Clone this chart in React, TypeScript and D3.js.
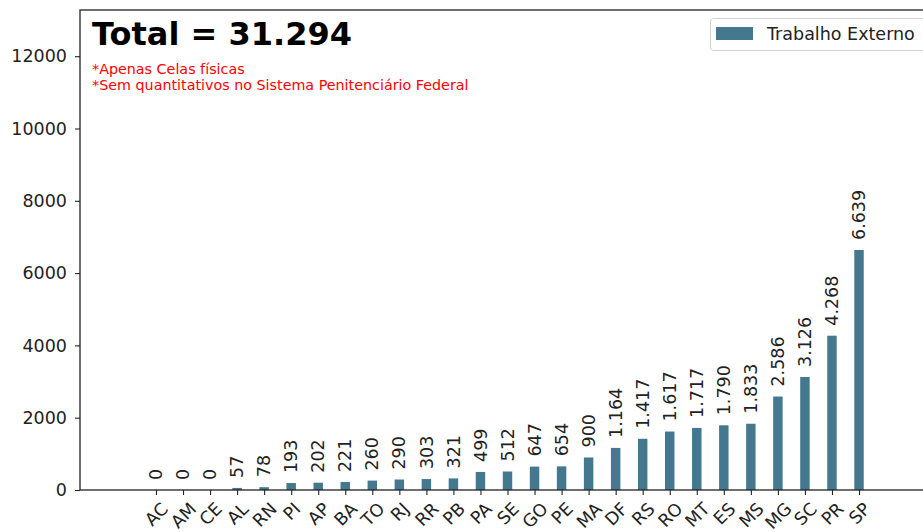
import React, { useEffect, useRef } from "react";
import * as d3 from "d3";

const categories = ["AC","AM","CE","AL","RN","PI","AP","BA","TO","RJ","RR","PB","PA","SE","GO","PE","MA","DF","RS","RO","MT","ES","MS","MG","SC","PR","SP"];
const values = [0,0,0,57,78,193,202,221,260,290,303,321,499,512,647,654,900,1164,1417,1617,1717,1790,1833,2586,3126,4268,6639];
const yTicks = [0, 2000, 4000, 6000, 8000, 10000, 12000];
const seriesName = "Trabalho Externo";
const titleText = "Total = 31.294";
const notes = ["*Apenas Celas físicas", "*Sem quantitativos no Sistema Penitenciário Federal"];

const W = 923, H = 532;
const BAR = "#44788f";
const FONT = "DejaVu Sans, sans-serif";
const FS = 17.5;

export default function App() {
  const ref = useRef<SVGSVGElement>(null);
  useEffect(() => {
    const svg = d3.select(ref.current);
    svg.selectAll("*").remove();
    const left = 80, right = 935, top = 10, bottom = 490;
    const x = d3.scalePoint<string>().domain(categories).range([left, right]).padding(2.81);
    const yMax = d3.max(values)! * 2;
    const y = d3.scaleLinear().domain([0, yMax]).range([bottom, top]);
    const bw = x.step() * 0.35;
    const fmt = d3.formatLocale({ decimal: ",", thousands: ".", grouping: [3], currency: ["R$", ""] }).format(",d");

    svg.append("rect").attr("width", W).attr("height", H).attr("fill", "#fff");

    // bars
    svg.append("g").selectAll("rect").data(values).join("rect")
      .attr("x", (_, i) => x(categories[i])! - bw / 2)
      .attr("width", bw)
      .attr("y", d => y(d))
      .attr("height", d => y(0) - y(d))
      .attr("fill", BAR);

    // bar labels
    svg.append("g").selectAll("text").data(values).join("text")
      .attr("transform", (d, i) => `translate(${x(categories[i])},${y(d) - 10}) rotate(-90)`)
      .attr("dy", "0.35em")
      .attr("font-family", FONT).attr("font-size", FS).attr("fill", "#222")
      .text(d => fmt(d));

    // y axis
    const ya = svg.append("g").attr("transform", `translate(${left},0)`)
      .call(d3.axisLeft(y).tickValues(yTicks).tickSize(5).tickPadding(8).tickFormat(d3.format("d")));
    ya.select(".domain").remove();
    ya.selectAll("line").attr("stroke", "#222").attr("stroke-width", 1.1);
    ya.selectAll("text").attr("font-family", FONT).attr("font-size", FS).attr("fill", "#222");

    // x axis
    const xa = svg.append("g").attr("transform", `translate(0,${bottom})`)
      .call(d3.axisBottom(x).tickSize(5).tickPadding(0));
    xa.select(".domain").remove();
    xa.selectAll("line").attr("stroke", "#222").attr("stroke-width", 1.1);
    xa.selectAll<SVGTextElement, string>("text")
      .attr("font-family", FONT).attr("font-size", FS).attr("fill", "#222")
      .attr("text-anchor", "middle").attr("dy", "0.35em").attr("y", 0)
      .each(function () {
        const t = this as SVGTextElement;
        const w = t.getComputedTextLength();
        const h = FS * 1.164;
        const cy = 8.5 + (w + h) / (2 * Math.SQRT2);
        d3.select(t).attr("transform", `translate(0,${cy}) rotate(-45)`);
      });

    // spines
    svg.append("rect").attr("x", left).attr("y", top).attr("width", right - left).attr("height", bottom - top)
      .attr("fill", "none").attr("stroke", "#222").attr("stroke-width", 1.3);

    // title
    svg.append("text").attr("x", 92).attr("y", 45).attr("font-family", FONT).attr("font-weight", "bold")
      .attr("font-size", 32).attr("fill", "#000").text(titleText);
    notes.forEach((n, i) => {
      svg.append("text").attr("x", 92).attr("y", 74 + i * 15.5).attr("font-family", FONT)
        .attr("font-size", 14.3).attr("fill", "#ff0000").text(n);
    });

    // legend
    const lg = svg.append("g");
    lg.append("rect").attr("x", 710.5).attr("y", 18.5).attr("width", 240).attr("height", 32).attr("rx", 3)
      .attr("fill", "#fff").attr("stroke", "#d0d0d0");
    lg.append("rect").attr("x", 716).attr("y", 27).attr("width", 37).attr("height", 13).attr("fill", BAR);
    lg.append("text").attr("x", 767).attr("y", 40).attr("font-family", FONT).attr("font-size", FS)
      .attr("fill", "#222").text(seriesName);
  }, []);
  return (
    <div style={{ position: "fixed", left: 0, top: 0 }}>
      <svg ref={ref} width={W} height={H} style={{ display: "block" }} />
    </div>
  );
}
